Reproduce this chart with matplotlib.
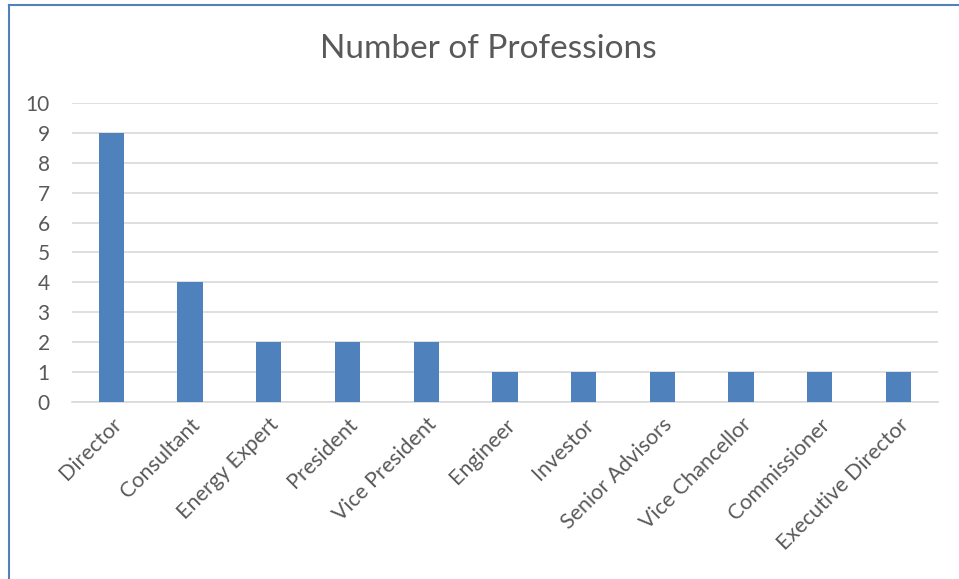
import matplotlib
matplotlib.use("Agg")
import matplotlib.pyplot as plt
from matplotlib.lines import Line2D

professions = ["Director", "Consultant", "Energy Expert", "President", "Vice President",
               "Engineer", "Investor", "Senior Advisors", "Vice Chancellor",
               "Commissioner", "Executive Director"]
counts = [9, 4, 2, 2, 2, 1, 1, 1, 1, 1, 1]
y_ticks = list(range(0, 11))

text_color = "#595959"
grid_color = "#D9D9D9"
bar_color = "#4F81BD"

plt.rcParams['font.family'] = ['Lato', 'DejaVu Sans']

fig = plt.figure(figsize=(9.59, 5.79), dpi=100)
ax = fig.add_axes([0.075, 0.306, 0.903, 0.516])

x = list(range(len(professions)))
ax.bar(x, counts, width=0.32, color=bar_color, zorder=3)

ax.set_xlim(-0.5, len(professions) - 0.5)
ax.set_ylim(0, 10)
ax.set_yticks(y_ticks)
ax.set_yticklabels([str(t) for t in y_ticks], fontsize=15, color=text_color)
ax.set_xticks(x)
ax.set_xticklabels(professions, rotation=45, ha="right", rotation_mode="anchor",
                   fontsize=15.5, color=text_color)
ax.tick_params(axis="both", length=0)
ax.tick_params(axis="y", pad=16)
ax.tick_params(axis="x", pad=9)

ax.grid(axis="y", color=grid_color, linewidth=1.2, zorder=0)
for side in ["top", "right", "left"]:
    ax.spines[side].set_visible(False)
ax.spines["bottom"].set_color(grid_color)
ax.spines["bottom"].set_linewidth(1.2)

fig.text(0.509, 0.915, "Number of Professions", ha="center", va="center",
         fontsize=24, color=text_color)

# chart frame (left and top edges only visible)
fig.add_artist(Line2D([8.5 / 959, 8.5 / 959], [0, 1 - 5 / 579], color="#4F81BD", linewidth=1.5))
fig.add_artist(Line2D([8.5 / 959, 1], [1 - 5 / 579, 1 - 5 / 579], color="#4F81BD", linewidth=1.5))

fig.savefig("out.png", dpi=100)
